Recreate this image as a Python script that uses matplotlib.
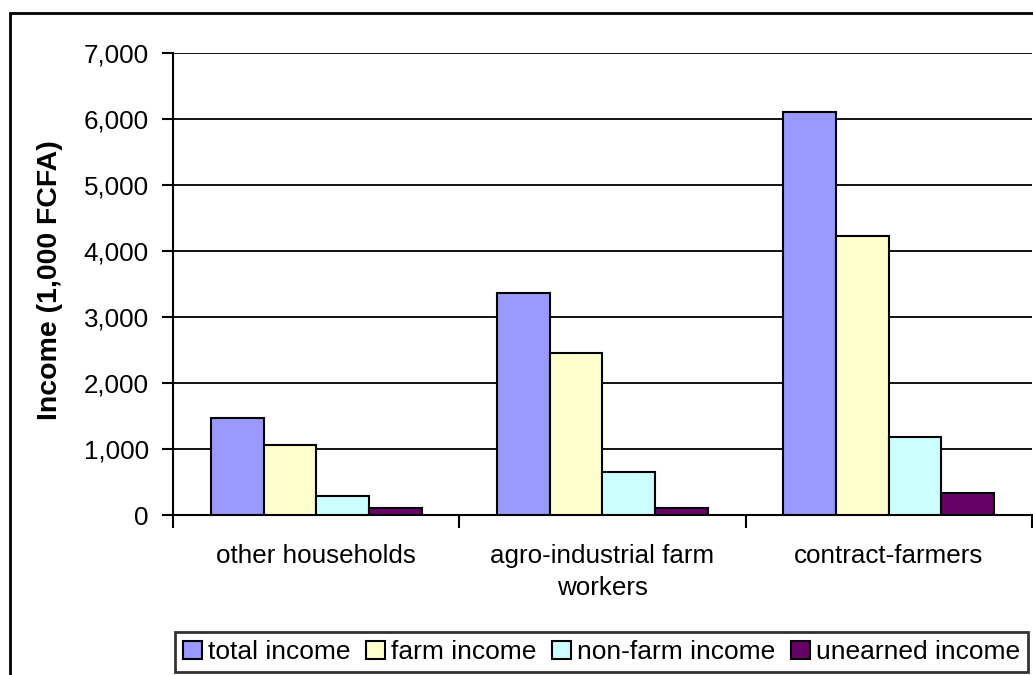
import numpy as np
import matplotlib.pyplot as plt
from matplotlib.patches import Rectangle
from matplotlib.ticker import FuncFormatter, FixedLocator

plt.rcParams['font.family'] = ['Liberation Sans', 'DejaVu Sans']

categories = ['other households', 'agro-industrial farm\nworkers', 'contract-farmers']
series_names = ['total income', 'farm income', 'non-farm income', 'unearned income']
total_income = [1465, 3370, 6100]
farm_income = [1060, 2460, 4225]
nonfarm_income = [285, 655, 1185]
unearned_income = [110, 105, 335]
colors = ['#9999FF', '#FFFFCC', '#CCFFFF', '#660066']

series = [total_income, farm_income, nonfarm_income, unearned_income]

fig = plt.figure(figsize=(10.33, 6.75), dpi=100)
ax = fig.add_axes([0.1675, 0.237, 0.8315, 0.6845])

# outer chart border
fig.patches.append(Rectangle((10 / 1033, -0.1), 1.2, 1 - 13 / 675 + 0.1,
                             transform=fig.transFigure, fill=False,
                             edgecolor='black', linewidth=2, zorder=0))

x = np.arange(len(categories))
w = 0.184
for i, (vals, name, c) in enumerate(zip(series, series_names, colors)):
    ax.bar(x + (i - 1.5) * w, vals, width=w, color=c, edgecolor='black',
           linewidth=1.5, label=name, zorder=3)

ax.set_xlim(-0.5, 2.5)
ax.set_ylim(0, 7000)
ax.set_yticks(np.arange(0, 7001, 1000))
ax.yaxis.set_major_formatter(FuncFormatter(lambda v, p: f'{int(v):,}'))
ax.yaxis.grid(True, color='black', linewidth=1.3)
ax.set_axisbelow(True)

ax.set_xticks(x)
ax.set_xticklabels(categories, fontsize=18.7, linespacing=1.4)
ax.tick_params(axis='x', which='major', length=0, pad=21)
ax.xaxis.set_minor_locator(FixedLocator([-0.5, 0.5, 1.5, 2.5]))
ax.tick_params(axis='x', which='minor', length=9, width=1.5, direction='out')
ax.tick_params(axis='y', length=8, width=1.5, labelsize=18.7, pad=9.5)

for s in ['top', 'right']:
    ax.spines[s].set_visible(False)
ax.spines['left'].set_linewidth(1.5)
ax.spines['bottom'].set_linewidth(1.5)

ax.set_ylabel('Income (1,000 FCFA)', fontsize=20.5, fontweight='bold')
ax.yaxis.set_label_coords(-0.128, 0.509)

leg = fig.legend(loc='lower center', bbox_to_anchor=(601.5 / 1033, 3 / 675),
                 ncol=4, fontsize=19, frameon=True, fancybox=False,
                 edgecolor='black', handlelength=0.7, handleheight=0.7,
                 handletextpad=0.22, columnspacing=0.62, borderaxespad=0, borderpad=0.3)
leg.get_frame().set_linewidth(2)

fig.savefig('out.png', dpi=100)
